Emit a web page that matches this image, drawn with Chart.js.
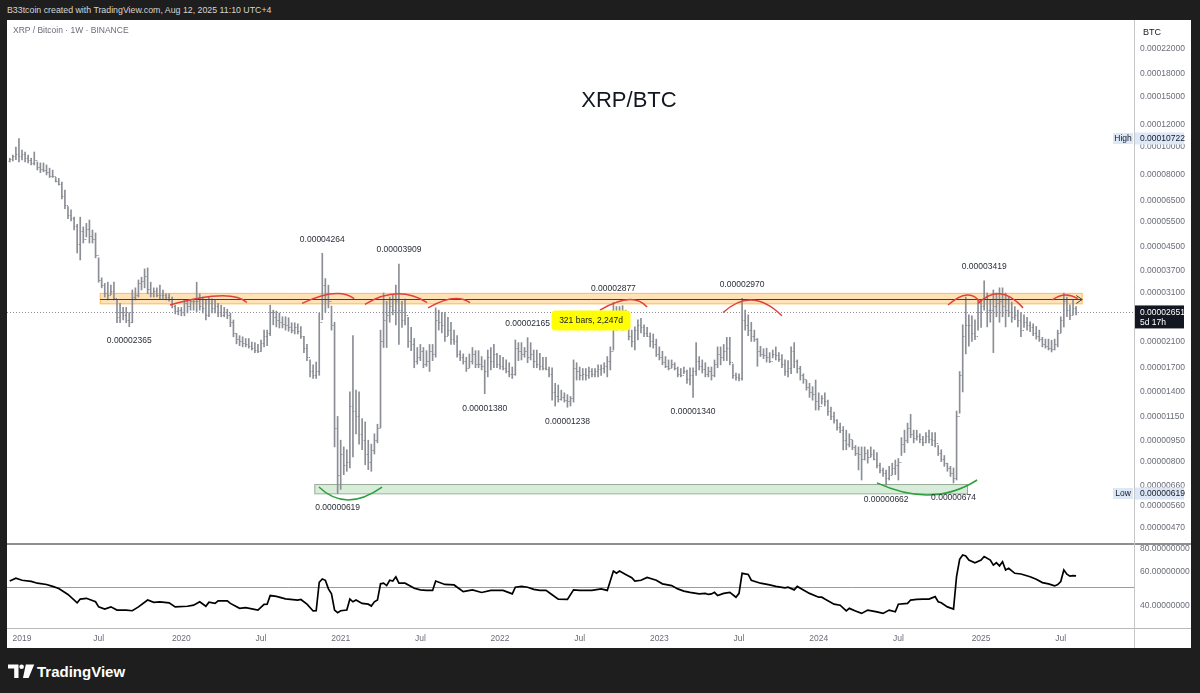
<!DOCTYPE html>
<html>
<head>
<meta charset="utf-8">
<title>XRP/BTC</title>
<script src="https://cdn.jsdelivr.net/npm/chart.js@4.4.1/dist/chart.umd.min.js"></script>
<style>
  html, body { margin: 0; padding: 0; background: #1e1e1e; }
  body { width: 1200px; height: 693px; position: relative; overflow: hidden; font-family: 'Liberation Sans', Arial, sans-serif; }
  #sheet { position: absolute; left: 7px; top: 20px; width: 1184px; height: 628px; background: #fff; }
  #pricebox { position: absolute; left: 7px; top: 20px; }
  #rsibox { position: absolute; left: 7px; top: 543px; }
  canvas { display: block; }
  .txt { position: absolute; white-space: nowrap; line-height: 1; }
</style>
</head>
<body>
<div id="sheet"></div>
<div class="txt" style="left:7px; top:6px; font-size:8.8px; color:#d6d6d6;">B33tcoin created with TradingView.com, Aug 12, 2025 11:10 UTC+4</div>
<div id="pricebox"><canvas id="price" width="1184" height="523"></canvas></div>
<div id="rsibox"><canvas id="rsi" width="1184" height="105"></canvas></div>
<div class="txt" style="left:13px; top:26px; font-size:8.5px; color:#6a6d78;">XRP / Bitcoin · 1W · BINANCE</div>
<div class="txt" style="left:1143px; top:28px; font-size:9px; color:#131722;">BTC</div>
<div class="txt" style="left:529px; top:89px; width:200px; text-align:center; font-size:22px; color:#131722;">XRP/BTC</div>
<svg style="position:absolute; left:8px; top:664px;" width="28" height="15" viewBox="0 0 28 15">
  <path d="M0 0.5h10.5v13.5H6.2V4.6H0z" fill="#fff"/>
  <circle cx="13.6" cy="2.8" r="2.3" fill="#fff"/>
  <path d="M17.8 0.5h8.4l-5.6 13.5h-5.6z" fill="#fff"/>
</svg>
<div class="txt" style="left:37px; top:664px; font-size:15px; font-weight:bold; color:#fff;">TradingView</div>
<script>
// weekly bars, week index 0 = week of 31 Dec 2018, values in satoshi (1e-8 BTC)
const firstWeek = -3;
const firstOpen = 8950;

const highs = [
  9150, 9380, 10010, 10722, 9775, 9618, 9380, 9150, 9618, 8880,
  8810, 8810, 8670, 8450, 8320, 7840, 7780, 7560, 7090, 6200,
  6040, 5700, 5380, 5700, 5270, 5420, 5570, 5140, 5020, 4110,
  3500, 3350, 3380, 3300, 3380, 2930, 2850, 2760, 2760, 2650,
  3175, 3230, 3440, 3520, 3760, 3790, 3380, 3230, 3230, 3300,
  3175, 3080, 3080, 3000, 2810, 2760, 2760, 2930, 2900, 2930,
  2930, 3380, 3080, 3000, 2930, 3000, 2960, 2930, 2850, 2810,
  2760, 2720, 2640, 2495, 2240, 2200, 2180, 2150, 2150, 2090,
  2080, 2050, 2125, 2300, 2300, 2810, 2700, 2680, 2640, 2560,
  2560, 2540, 2440, 2440, 2420, 2365, 2190, 2050, 1810, 1740,
  1780, 2640, 4264, 3480, 3300, 2790, 2450, 1150, 950, 900,
  880, 1400, 2200, 1420, 1400, 1130, 1100, 950, 920, 1000,
  1080, 2300, 3100, 2900, 3000, 3050, 3300, 3909, 2900, 2950,
  2550, 2350, 2150, 2000, 2050, 2000, 1950, 2050, 2050, 2750,
  2700, 2650, 2650, 2550, 2450, 2300, 2200, 1950, 1900, 1850,
  1900, 2000, 1950, 1950, 1860, 1810, 1960, 2000, 2050, 1910,
  1880, 1850, 1810, 1770, 1710, 2125, 2080, 2080, 2000, 2165,
  2080, 1960, 1960, 1910, 1850, 1850, 1710, 1700, 1500, 1480,
  1420, 1390, 1370, 1350, 1810, 1770, 1710, 1690, 1690, 1710,
  1690, 1690, 1740, 1740, 1770, 1860, 2010, 2877, 2780, 2780,
  2800, 2700, 2340, 2300, 2360, 2500, 2530, 2400, 2350, 2250,
  2230, 2140, 2010, 1940, 1860, 1810, 1810, 1770, 1710, 1690,
  1710, 1670, 1700, 1700, 2080, 1860, 1810, 1770, 1710, 1710,
  1810, 2010, 2010, 2050, 2170, 2170, 1750, 1630, 1620, 2970,
  2700, 2600, 2450, 2300, 2150, 2020, 1980, 1990, 1920, 1960,
  2010, 1920, 1890, 1810, 1800, 2010, 2080, 1810, 1720, 1620,
  1540, 1500, 1460, 1540, 1390, 1360, 1390, 1310, 1240, 1190,
  1120, 1090, 1060, 1030, 1000, 950, 910, 900, 900, 900,
  880, 900, 880, 860, 790, 760, 748, 770, 790, 810,
  820, 970, 1030, 1090, 1170, 1030, 1030, 1000, 980, 1010,
  1030, 1010, 1010, 910, 880, 840, 790, 770, 760, 1200,
  1650, 2400, 3000, 2600, 2580, 2500, 2930, 2930, 3419, 3100,
  2930, 3175, 3100, 3230, 3230, 3100, 3000, 2880, 2780, 2700,
  2650, 2600, 2550, 2460, 2420, 2370, 2300, 2170, 2140, 2140,
  2120, 2140, 2300, 2560, 3100, 3000, 2820, 2930, 2780
];
const lows = [
  8880, 8950, 9050, 8880, 9020, 8880, 8810, 8670, 8670, 8323,
  8150, 8200, 8000, 7840, 7840, 7560, 7380, 6600, 6100, 5630,
  5530, 5140, 4280, 4040, 4630, 4860, 4630, 4630, 4110, 3380,
  3230, 3000, 2930, 3060, 2930, 2440, 2440, 2495, 2440, 2365,
  2440, 2930, 3000, 3175, 3230, 3080, 3000, 3000, 3000, 2960,
  2960, 2930, 2900, 2750, 2620, 2600, 2580, 2580, 2640, 2700,
  2700, 2670, 2700, 2640, 2495, 2560, 2640, 2640, 2560, 2560,
  2560, 2520, 2365, 2180, 2060, 2030, 2010, 2010, 1990, 1960,
  1920, 1920, 1940, 2010, 2030, 2200, 2400, 2360, 2340, 2340,
  2300, 2280, 2250, 2230, 2230, 2150, 1920, 1800, 1580, 1560,
  1560, 1600, 2500, 2650, 2750, 2300, 900, 619, 640, 720,
  740, 760, 830, 1000, 920, 880, 780, 750, 740, 850,
  930, 1050, 2000, 2000, 2450, 2600, 2400, 2050, 2350, 2400,
  2000, 1950, 1700, 1750, 1800, 1700, 1720, 1650, 1800, 1850,
  2300, 2250, 2100, 2200, 2050, 2050, 1850, 1800, 1750, 1650,
  1700, 1750, 1700, 1700, 1670, 1380, 1580, 1670, 1700, 1700,
  1680, 1670, 1630, 1580, 1560, 1600, 1800, 1810, 1850, 1770,
  1810, 1700, 1700, 1670, 1670, 1670, 1580, 1310, 1250, 1290,
  1310, 1290, 1238, 1250, 1290, 1540, 1540, 1540, 1540, 1560,
  1580, 1580, 1580, 1600, 1630, 1580, 1670, 1960, 2300, 2350,
  2300, 2340, 2125, 2010, 1960, 2125, 2250, 2180, 2180, 2010,
  1990, 1860, 1810, 1740, 1700, 1670, 1700, 1670, 1580, 1580,
  1620, 1500, 1480, 1340, 1600, 1670, 1630, 1580, 1580, 1540,
  1580, 1700, 1740, 1800, 1800, 1740, 1560, 1540, 1530, 1540,
  2300, 2200, 2100, 2100, 1720, 1860, 1830, 1780, 1770, 1840,
  1810, 1790, 1700, 1600, 1580, 1620, 1700, 1630, 1540, 1500,
  1420, 1340, 1310, 1210, 1210, 1270, 1250, 1160, 1120, 1090,
  1030, 1010, 878, 880, 900, 880, 840, 748, 690, 810,
  790, 830, 810, 760, 730, 710, 662, 690, 720, 720,
  690, 840, 860, 930, 970, 930, 950, 930, 910, 930,
  930, 910, 900, 840, 800, 770, 740, 710, 674, 690,
  1180, 1400, 1900, 2020, 2100, 2130, 2300, 2350, 2700, 2360,
  2450, 1920, 2560, 2450, 2560, 2360, 2560, 2450, 2500, 2360,
  2180, 2350, 2300, 2270, 2200, 2140, 2100, 2010, 1990, 1960,
  1930, 1960, 2010, 2250, 2360, 2560, 2500, 2600, 2600
];
const closes = [
  9100, 9300, 9450, 9300, 9500, 9200, 9000, 8800, 9000, 8500,
  8400, 8300, 8200, 7950, 7900, 7650, 7450, 6750, 6300, 5800,
  5650, 5300, 4600, 5100, 4800, 5200, 4900, 4800, 4200, 3450,
  3300, 3100, 3050, 3150, 2980, 2550, 2650, 2600, 2500, 2450,
  3000, 3050, 3350, 3400, 3550, 3200, 3100, 3150, 3050, 3050,
  3050, 3000, 2950, 2800, 2680, 2700, 2650, 2850, 2800, 2900,
  2900, 2900, 2800, 2750, 2600, 2850, 2750, 2800, 2650, 2600,
  2650, 2600, 2450, 2250, 2150, 2100, 2080, 2050, 2030, 2000,
  1960, 1950, 2080, 2200, 2250, 2650, 2550, 2500, 2450, 2420,
  2400, 2350, 2300, 2350, 2280, 2200, 2000, 1850, 1650, 1600,
  1650, 2450, 3300, 3100, 2900, 2400, 1050, 720, 850, 780,
  800, 1250, 1200, 1150, 1000, 950, 850, 800, 880, 950,
  1050, 2100, 2500, 2600, 2800, 2700, 2900, 2700, 2500, 2600,
  2100, 2050, 1800, 1850, 1950, 1750, 1800, 1950, 1900, 2500,
  2450, 2400, 2200, 2300, 2150, 2100, 1900, 1850, 1800, 1700,
  1800, 1900, 1750, 1750, 1720, 1650, 1850, 1800, 1900, 1750,
  1720, 1700, 1650, 1620, 1620, 2000, 1950, 1900, 1950, 1850,
  1900, 1800, 1750, 1720, 1700, 1680, 1620, 1400, 1350, 1320,
  1340, 1310, 1300, 1330, 1700, 1650, 1600, 1620, 1600, 1650,
  1620, 1650, 1680, 1700, 1720, 1800, 1950, 2500, 2500, 2450,
  2400, 2400, 2200, 2100, 2300, 2400, 2350, 2250, 2200, 2100,
  2050, 1900, 1850, 1780, 1730, 1700, 1750, 1700, 1620, 1600,
  1650, 1550, 1600, 1650, 1800, 1720, 1680, 1620, 1650, 1600,
  1750, 1900, 1850, 1950, 2000, 1780, 1600, 1580, 1560, 2500,
  2400, 2300, 2200, 2150, 1950, 1900, 1880, 1850, 1800, 1900,
  1880, 1830, 1750, 1650, 1700, 1950, 1800, 1700, 1600, 1550,
  1460, 1400, 1380, 1300, 1250, 1330, 1300, 1200, 1150, 1120,
  1060, 1030, 950, 920, 960, 900, 860, 850, 820, 860,
  830, 850, 820, 780, 750, 730, 700, 720, 760, 780,
  800, 920, 950, 1050, 1000, 970, 980, 960, 940, 980,
  960, 950, 930, 860, 820, 790, 760, 730, 700, 1150,
  1600, 2200, 2400, 2400, 2250, 2200, 2850, 2800, 3000, 2700,
  2700, 2800, 2850, 2900, 2800, 2700, 2650, 2550, 2600, 2500,
  2300, 2450, 2400, 2350, 2250, 2200, 2150, 2050, 2020, 2000,
  1980, 2050, 2250, 2500, 2900, 2700, 2600, 2750, 2651
];

// lower pane oscillator, read at these week indexes
const rsiWeeks = [
  -3, -1, 1, 4, 6, 9, 11, 13, 16, 19,
  20, 22, 25, 26, 28, 30, 32, 35, 37, 39,
  42, 44, 46, 49, 51, 55, 57, 59, 61, 62,
  64, 65, 68, 69, 72, 74, 78, 80, 81, 82,
  84, 87, 91, 92, 94, 96, 97, 98, 99, 100,
  101, 102, 103, 104, 105, 107, 108, 109, 110, 112,
  114, 115, 116, 117, 118, 119, 120, 121, 122, 123,
  124, 126, 128, 129, 131, 133, 135, 136, 139, 142,
  145, 148, 151, 154, 158, 161, 162, 164, 166, 168,
  170, 172, 174, 176, 179, 181, 183, 185, 187, 190,
  192, 194, 195, 196, 198, 200, 201, 203, 205, 208,
  210, 213, 215, 217, 219, 222, 224, 225, 226, 227,
  228, 230, 232, 234, 235, 236, 238, 239, 242, 245,
  247, 250, 251, 253, 254, 256, 258, 261, 262, 263,
  266, 268, 270, 271, 273, 275, 277, 280, 282, 284,
  286, 287, 290, 291, 293, 295, 297, 299, 300, 301,
  303, 305, 306, 307, 308, 309, 310, 312, 314, 315,
  317, 318, 319, 320, 321, 322, 323, 325, 327, 330,
  332, 334, 336, 338, 339, 340, 341, 342, 343, 344,
  345
];
const rsiValues = [
  53.8, 55.7, 54.3, 53.6, 52.4, 51.6, 50.4, 49.1, 45.7, 41.3,
  43.2, 43.6, 41.8, 39.3, 38.3, 39.3, 37.8, 37.8, 37.5, 39.3,
  42.7, 41.5, 41.8, 41.3, 39.3, 39.6, 40.1, 41.8, 39.6, 41.6,
  41.0, 42.3, 42.3, 41.0, 38.6, 38.9, 37.8, 40.5, 40.6, 45.1,
  44.6, 43.3, 42.7, 43.0, 40.6, 37.4, 37.5, 53.0, 55.2, 54.3,
  48.9, 46.0, 37.8, 36.6, 37.5, 37.8, 43.2, 41.8, 42.7, 41.0,
  40.6, 39.7, 41.8, 42.7, 52.0, 52.4, 50.9, 54.3, 53.8, 56.6,
  52.4, 52.4, 50.4, 49.3, 48.3, 48.0, 48.0, 53.8, 51.6, 51.3,
  47.3, 48.3, 46.8, 48.0, 48.0, 46.0, 49.9, 50.4, 49.9, 48.6,
  48.0, 48.0, 45.5, 43.2, 43.0, 48.3, 48.0, 48.0, 48.0, 48.9,
  48.0, 60.7, 59.1, 60.7, 58.3, 56.0, 53.8, 54.3, 56.2, 54.3,
  52.0, 50.9, 48.9, 47.6, 46.9, 46.0, 46.3, 45.7, 46.0, 46.9,
  45.1, 46.3, 46.9, 44.2, 46.3, 59.1, 58.3, 54.3, 52.4, 51.3,
  50.4, 49.5, 49.9, 48.3, 50.4, 48.3, 46.3, 44.2, 44.2, 43.2,
  40.6, 40.1, 37.4, 38.6, 37.4, 36.3, 37.8, 37.0, 36.3, 37.8,
  37.0, 40.6, 41.0, 42.7, 43.0, 43.2, 43.2, 44.5, 41.8, 41.3,
  39.3, 38.3, 57.0, 70.0, 73.8, 73.0, 69.4, 67.2, 69.4, 72.5,
  69.4, 65.3, 67.2, 64.7, 68.0, 61.5, 62.8, 59.1, 58.6, 56.7,
  55.0, 52.8, 52.0, 50.7, 51.5, 53.5, 61.5, 58.5, 57.1, 57.5,
  57.3
];
const rsiMid = 50;

const priceTicks = [22000, 18000, 15000, 12000, 10000, 8000, 6500, 5500, 4500, 3700, 3100,
                    2100, 1700, 1400, 1150, 950, 800, 660, 560, 470];
const rsiTicks = [80, 60, 40];
const timeTickWeeks = [1, 26, 53, 79, 105, 131, 157, 183, 209, 235, 261, 287, 314, 340];
const timeTickLabels = ['2019', 'Jul', '2020', 'Jul', '2021', 'Jul', '2022', 'Jul', '2023', 'Jul', '2024', 'Jul', '2025', 'Jul'];

// drawings on the chart, in week / satoshi coordinates
const resistance = { from: 26.5, to: 347, low: 2840, high: 3090, mid: 2950 };
const support = { from: 96.4, to: 309.4, low: 620, high: 668 };
const redArcs = [
  [49.3, 2815, 65.6, 3030, 74.4, 2870],
  [92.4, 2850, 102.5, 3080, 109.4, 2960],
  [112.9, 2830, 123.4, 3080, 133.2, 2870],
  [133.5, 2750, 141.3, 2960, 147.2, 2870],
  [189.6, 2700, 198.8, 2940, 205.0, 2770],
  [229.8, 2650, 239.3, 2930, 249.0, 2580],
  [303.2, 2815, 309.4, 3050, 313.7, 2870],
  [313.0, 2850, 320.2, 3080, 327.7, 2750],
  [337.2, 2930, 341.4, 3050, 345.6, 2960]
];
const greenArcs = [
  [97.9, 652, 107.4, 588, 118.5, 652],
  [280.0, 674, 297.3, 612, 312.7, 690]
];
const highMarks = [99, 124, 166, 194, 236, 315];
const lowMarks = [36, 104, 152, 179, 220, 283, 305];
const measure = { week: 186.7, value: 2485, text: '321 bars, 2,247d' };
const countdown = '5d 17h';

const X_MIN = -3.9, X_MAX = 363.9;
const P_MIN = 416, P_MAX = 27770;
const R_MIN = 30.4, R_MAX = 85.4;
const FONT = "'Liberation Sans', Arial, sans-serif";
const BAR = '#8b8e95';
const AXIS_TEXT = '#6a6d78';
const AXIS_LINE = '#c6c6c6';

const weeks = highs.map((_, k) => firstWeek + k);
const opens = closes.map((c, k) => (k === 0 ? firstOpen : closes[k - 1]));
const fmtPrice = v => (v / 1e8).toFixed(8);

const px = (chart, w) => chart.scales.x.getPixelForValue(w);
const py = (chart, v) => chart.scales.y.getPixelForValue(v);

function clipArea(ctx, a) {
  ctx.beginPath();
  ctx.rect(a.left, a.top, a.right - a.left, a.bottom - a.top);
  ctx.clip();
}

function drawArc(ctx, chart, r) {
  const x0 = px(chart, r[0]), y0 = py(chart, r[1]);
  const xm = px(chart, r[2]), ym = py(chart, r[3]);
  const x1 = px(chart, r[4]), y1 = py(chart, r[5]);
  ctx.beginPath();
  ctx.moveTo(x0, y0);
  ctx.quadraticCurveTo(2 * xm - (x0 + x1) / 2, 2 * ym - (y0 + y1) / 2, x1, y1);
  ctx.stroke();
}

const drawingsBelow = {
  id: 'drawingsBelow',
  beforeDatasetsDraw(chart) {
    const ctx = chart.ctx, a = chart.chartArea;
    ctx.save();
    clipArea(ctx, a);
    // resistance band
    let x0 = px(chart, resistance.from), x1 = px(chart, resistance.to);
    let y0 = py(chart, resistance.high), y1 = py(chart, resistance.low);
    ctx.fillStyle = 'rgba(255,152,0,0.28)';
    ctx.fillRect(x0, y0, x1 - x0, y1 - y0);
    ctx.strokeStyle = 'rgba(255,152,0,0.6)';
    ctx.lineWidth = 1;
    ctx.strokeRect(x0, y0, x1 - x0, y1 - y0);
    // support box
    x0 = px(chart, support.from); x1 = px(chart, support.to);
    y0 = py(chart, support.high); y1 = py(chart, support.low);
    ctx.fillStyle = 'rgba(76,175,80,0.22)';
    ctx.fillRect(x0, y0, x1 - x0, y1 - y0);
    ctx.strokeStyle = '#98ac98';
    ctx.strokeRect(x0 + 0.5, y0 + 0.5, x1 - x0, y1 - y0);
    // last price dotted line
    const yl = Math.round(py(chart, closes[closes.length - 1])) + 0.5;
    ctx.setLineDash([1, 2]);
    ctx.strokeStyle = '#8a8d96';
    ctx.beginPath();
    ctx.moveTo(a.left, yl);
    ctx.lineTo(a.right, yl);
    ctx.stroke();
    ctx.restore();
  },
  afterDatasetsDraw(chart) {
    const ctx = chart.ctx, a = chart.chartArea;
    ctx.save();
    clipArea(ctx, a);
    // open / close ticks of the OHLC bars
    ctx.strokeStyle = BAR;
    ctx.lineWidth = 1;
    ctx.beginPath();
    weeks.forEach((w, k) => {
      const x = px(chart, w);
      const yo = Math.round(py(chart, opens[k])) + 0.5;
      const yc = Math.round(py(chart, closes[k])) + 0.5;
      ctx.moveTo(x - 1.2, yo); ctx.lineTo(x, yo);
      ctx.moveTo(x, yc); ctx.lineTo(x + 1.2, yc);
    });
    ctx.stroke();
    // resistance centre line with arrow
    const xs = px(chart, resistance.from), xe = px(chart, resistance.to);
    const ym = Math.round(py(chart, resistance.mid)) + 0.5;
    ctx.strokeStyle = '#4a3a2c';
    ctx.beginPath();
    ctx.moveTo(xs, ym); ctx.lineTo(xe, ym);
    ctx.moveTo(xe - 6, ym - 4); ctx.lineTo(xe, ym); ctx.lineTo(xe - 6, ym + 4);
    ctx.stroke();
    // arcs
    ctx.lineWidth = 1.5;
    ctx.strokeStyle = '#e2403a';
    redArcs.forEach(r => drawArc(ctx, chart, r));
    ctx.strokeStyle = '#2e9e3e';
    greenArcs.forEach(r => drawArc(ctx, chart, r));
    // high / low price labels
    ctx.fillStyle = '#2a2e39';
    ctx.font = '8.5px ' + FONT;
    ctx.textAlign = 'center';
    ctx.textBaseline = 'middle';
    highMarks.forEach(w => {
      const k = w - firstWeek;
      ctx.fillText(fmtPrice(highs[k]), px(chart, w), py(chart, highs[k]) - 14);
    });
    lowMarks.forEach(w => {
      const k = w - firstWeek;
      ctx.fillText(fmtPrice(lows[k]), px(chart, w), py(chart, lows[k]) + 14.5);
    });
    // date range label
    const mx = px(chart, measure.week), my = py(chart, measure.value);
    ctx.fillStyle = '#ffff00';
    ctx.beginPath();
    ctx.roundRect(mx - 39.5, my - 10, 79, 20, 4);
    ctx.fill();
    ctx.fillStyle = '#131722';
    ctx.fillText(measure.text, mx, my);
    ctx.restore();
  },
  afterDraw(chart) {
    const ctx = chart.ctx, a = chart.chartArea;
    ctx.save();
    ctx.strokeStyle = AXIS_LINE;
    ctx.lineWidth = 1;
    ctx.beginPath();
    ctx.moveTo(a.right + 0.5, 0);
    ctx.lineTo(a.right + 0.5, chart.height);
    ctx.stroke();
    ctx.font = '8.5px ' + FONT;
    ctx.textBaseline = 'middle';
    const tag = (v, name) => {
      const y = py(chart, v);
      ctx.fillStyle = '#dde8f7';
      ctx.fillRect(a.right - 21, y - 5.5, 20, 11);
      ctx.fillRect(a.right + 1, y - 6, 49, 12);
      ctx.fillStyle = '#131722';
      ctx.textAlign = 'center';
      ctx.fillText(name, a.right - 11, y);
      ctx.textAlign = 'left';
      ctx.fillText(fmtPrice(v), a.right + 6, y);
    };
    tag(Math.max(...highs), 'High');
    tag(Math.min(...lows), 'Low');
    const last = closes[closes.length - 1];
    const yl = py(chart, last);
    ctx.fillStyle = '#131722';
    ctx.fillRect(a.right + 1, yl - 7, 49, 23);
    ctx.fillStyle = '#ffffff';
    ctx.textAlign = 'left';
    ctx.fillText(fmtPrice(last), a.right + 6, yl);
    ctx.fillText(countdown, a.right + 6, yl + 10);
    ctx.restore();
  }
};

const rsiFrame = {
  id: 'rsiFrame',
  beforeDatasetsDraw(chart) {
    const ctx = chart.ctx, a = chart.chartArea;
    const y50 = Math.round(chart.scales.y.getPixelForValue(rsiMid)) + 0.5;
    ctx.save();
    ctx.strokeStyle = '#9c9c9c';
    ctx.lineWidth = 1;
    ctx.beginPath();
    ctx.moveTo(a.left, y50);
    ctx.lineTo(a.right, y50);
    ctx.stroke();
    ctx.restore();
  },
  afterDraw(chart) {
    const ctx = chart.ctx, a = chart.chartArea;
    ctx.save();
    ctx.strokeStyle = '#8e8e8e';
    ctx.lineWidth = 2;
    ctx.beginPath();
    ctx.moveTo(0, 1); ctx.lineTo(chart.width, 1);
    ctx.stroke();
    ctx.strokeStyle = '#b9b9b9';
    ctx.lineWidth = 1;
    ctx.beginPath();
    ctx.moveTo(0, a.bottom + 0.5); ctx.lineTo(chart.width, a.bottom + 0.5);
    ctx.stroke();
    ctx.strokeStyle = AXIS_LINE;
    ctx.beginPath();
    ctx.moveTo(a.right + 0.5, 0); ctx.lineTo(a.right + 0.5, chart.height);
    ctx.stroke();
    ctx.restore();
  }
};

const tickFont = { family: FONT, size: 8.5 };

new Chart(document.getElementById('price'), {
  type: 'bar',
  data: {
    datasets: [{
      data: weeks.map((w, k) => ({ x: w, y: [lows[k], highs[k]] })),
      backgroundColor: BAR,
      borderWidth: 0,
      barThickness: 1
    }]
  },
  options: {
    responsive: false,
    animation: false,
    layout: { padding: 0 },
    plugins: { legend: { display: false }, tooltip: { enabled: false } },
    scales: {
      x: { type: 'linear', min: X_MIN, max: X_MAX, bounds: 'data', offset: false, display: false,
           grid: { display: false, offset: false } },
      y: {
        type: 'logarithmic', position: 'right', min: P_MIN, max: P_MAX, bounds: 'data',
        grid: { display: false, drawTicks: false }, border: { display: false },
        ticks: { autoSkip: false, padding: 6, color: AXIS_TEXT, font: tickFont, callback: v => fmtPrice(v) },
        afterBuildTicks: s => { s.ticks = priceTicks.map(v => ({ value: v })); },
        afterFit: s => { s.width = 57; s.paddingTop = 0; s.paddingBottom = 0; }
      }
    }
  },
  plugins: [drawingsBelow]
});

new Chart(document.getElementById('rsi'), {
  type: 'line',
  data: {
    datasets: [{
      data: rsiWeeks.map((w, k) => ({ x: w, y: rsiValues[k] })),
      borderColor: '#000000',
      borderWidth: 1.7,
      pointRadius: 0,
      tension: 0,
      fill: false
    }]
  },
  options: {
    responsive: false,
    animation: false,
    layout: { padding: 0 },
    plugins: { legend: { display: false }, tooltip: { enabled: false } },
    scales: {
      x: {
        type: 'linear', min: X_MIN, max: X_MAX, bounds: 'data', offset: false,
        grid: { display: false, drawTicks: false }, border: { display: false },
        ticks: { autoSkip: false, maxRotation: 0, minRotation: 0, padding: 6, color: AXIS_TEXT, font: tickFont,
                 callback: v => { const k = timeTickWeeks.indexOf(v); return k < 0 ? '' : timeTickLabels[k]; } },
        afterBuildTicks: s => { s.ticks = timeTickWeeks.map(v => ({ value: v })); },
        afterFit: s => { s.height = 20; s.paddingLeft = 0; s.paddingRight = 0; }
      },
      y: {
        type: 'logarithmic', position: 'right', min: R_MIN, max: R_MAX, bounds: 'data',
        grid: { display: false, drawTicks: false }, border: { display: false },
        ticks: { autoSkip: false, padding: 6, color: AXIS_TEXT, font: tickFont, callback: v => Number(v).toFixed(8) },
        afterBuildTicks: s => { s.ticks = rsiTicks.map(v => ({ value: v })); },
        afterFit: s => { s.width = 57; s.paddingTop = 0; s.paddingBottom = 0; }
      }
    }
  },
  plugins: [rsiFrame]
});
</script>
</body>
</html>
